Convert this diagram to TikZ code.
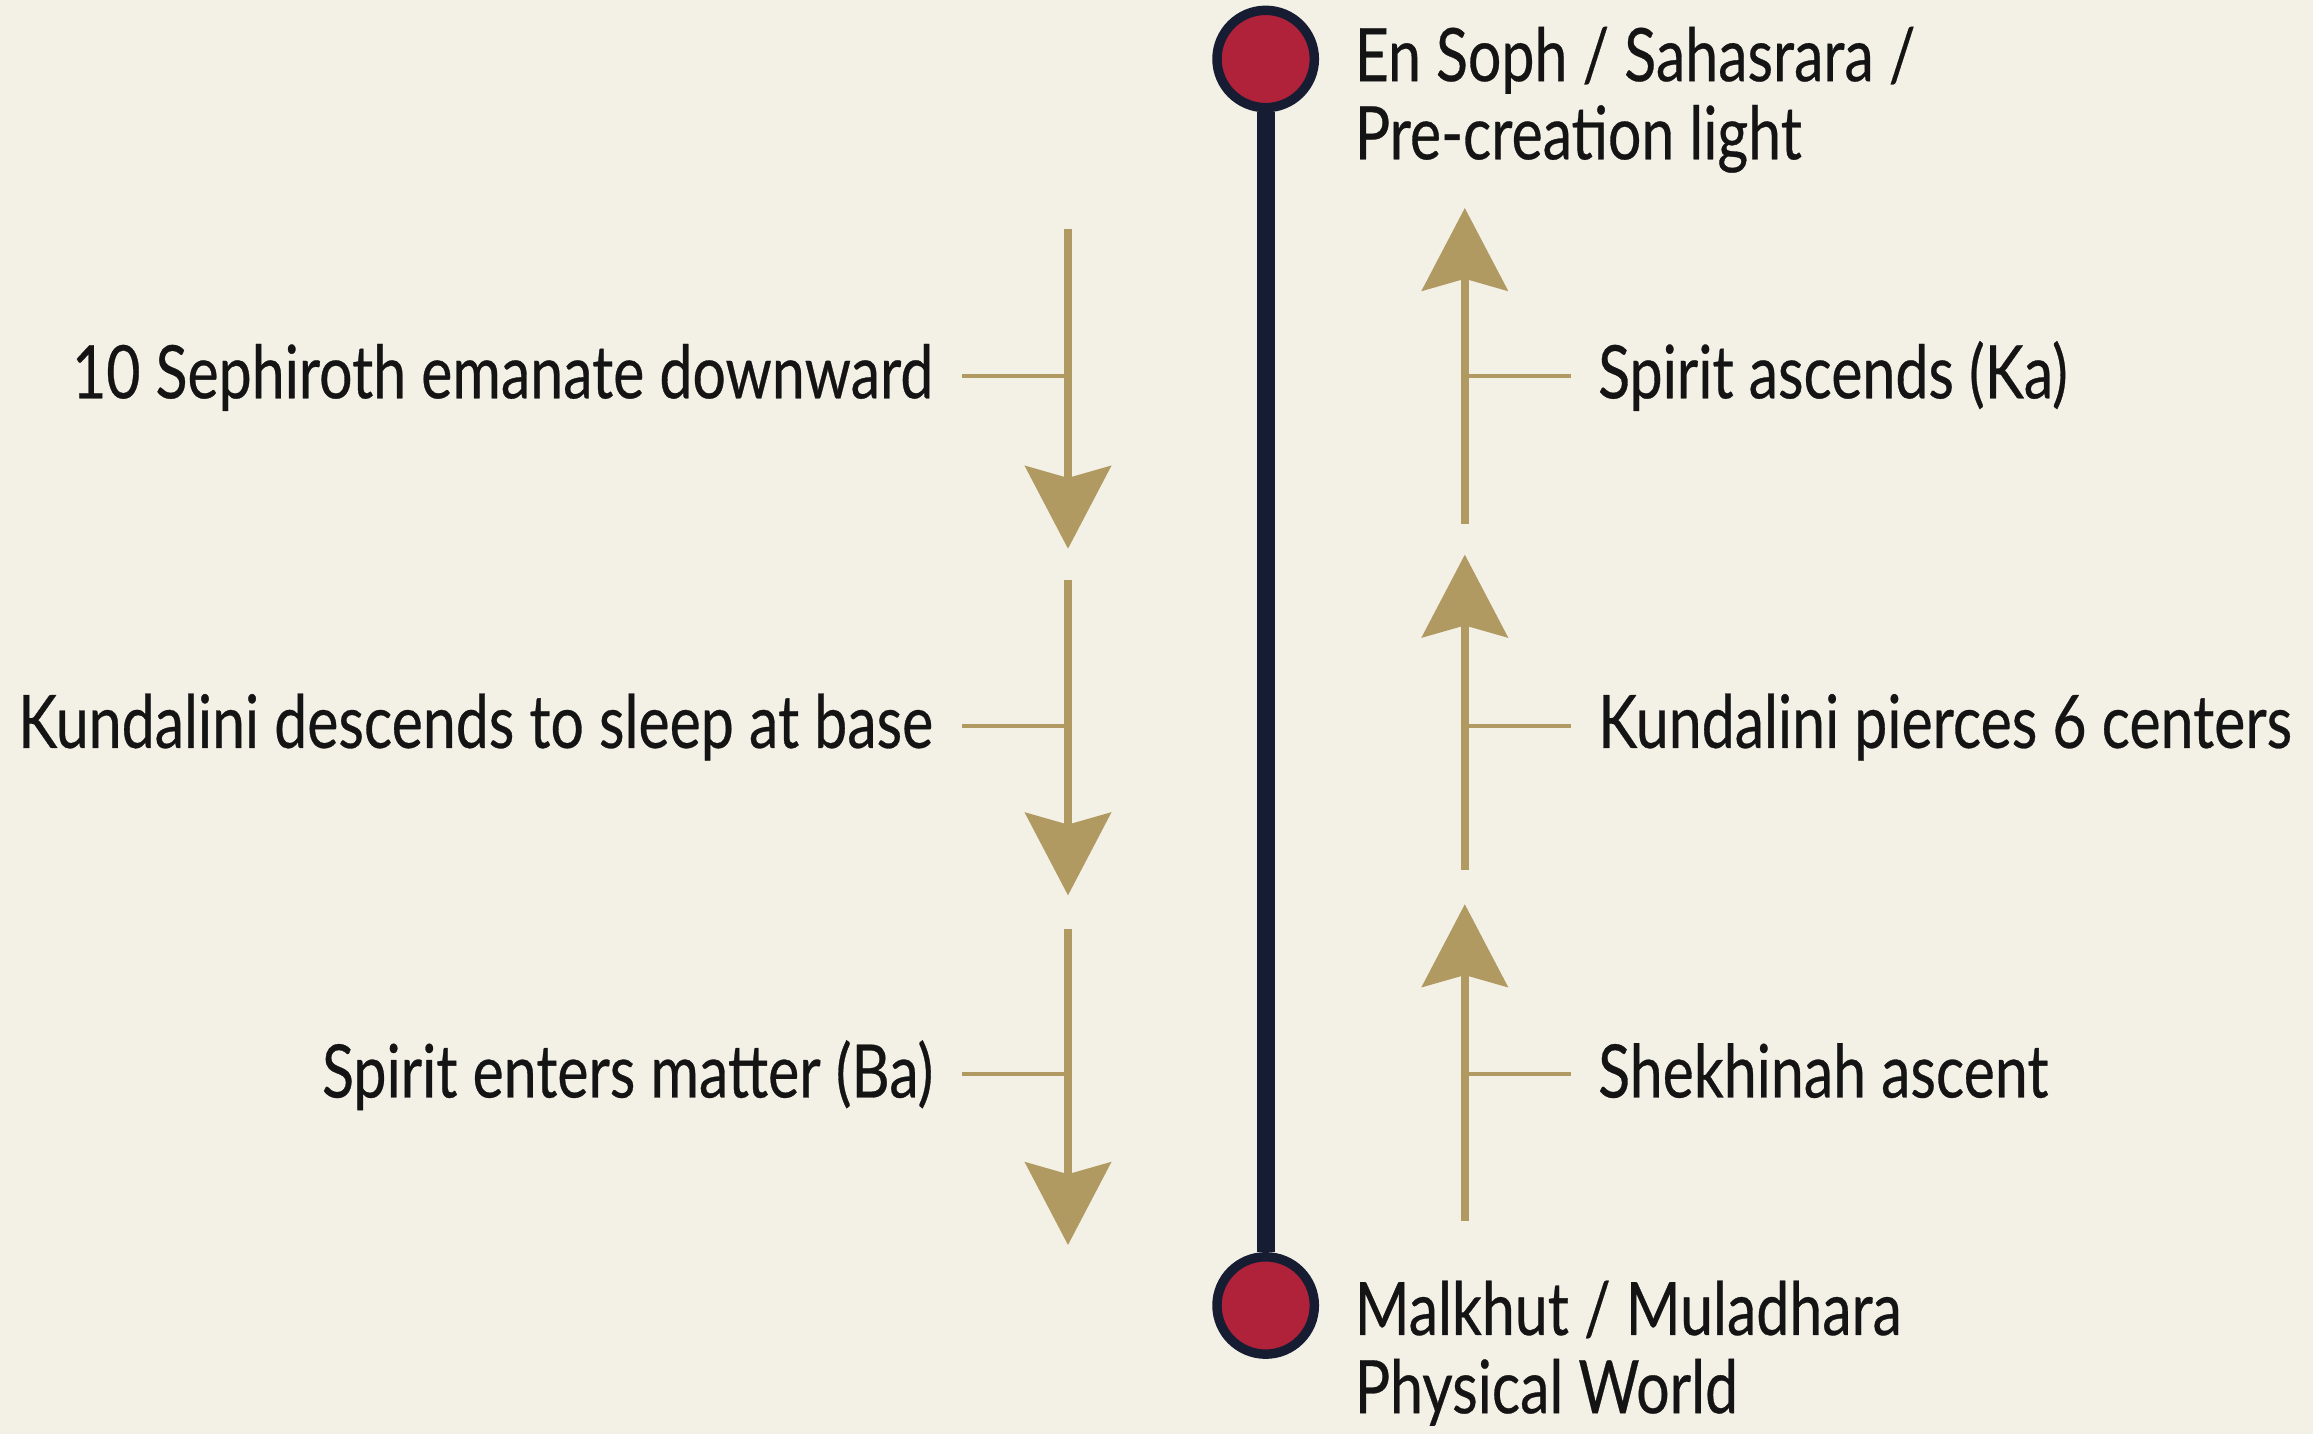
\documentclass[tikz,border=0pt]{standalone}
\usepackage{fontspec}
\setmainfont{Lato}[FakeStretch=0.8, FakeBold=0.4]
\usetikzlibrary{arrows.meta}
\definecolor{bg}{HTML}{F3F0E6}
\definecolor{navy}{HTML}{161D33}
\definecolor{crimson}{HTML}{B0223A}
\definecolor{gold}{HTML}{B09A62}
\definecolor{ink}{HTML}{141414}
\tikzset{
  axisline/.style={draw=navy, line width=6pt},
  pole/.style={circle, draw=navy, line width=3.2pt, fill=crimson, minimum size=33pt, inner sep=0pt},
  flow/.style={draw=gold, line width=2.8pt, -{Stealth[length=28pt, width=29pt, inset=4pt]}},
  tick/.style={draw=gold, line width=1.2pt},
  lbl/.style={font=\fontsize{25pt}{26.5pt}\selectfont, text=ink, inner sep=0pt},
  title/.style={lbl, align=left}
}
\begin{document}
\begin{tikzpicture}[x=0.5pt, y=-0.5pt]
\fill[bg] (0,0) rectangle (1568,972);
\useasboundingbox (0,0) rectangle (1568,972);
% axis
\node[pole] (top) at (858,40) {};
\node[pole] (bot) at (858,885) {};
\draw[axisline] (top) -- (bot);
% titles
\node[title, anchor=base west] (ttop) at (918,108) {En Soph / Sahasrara /\\Pre-creation light};
\node[title, anchor=base west] (tbot) at (918,958) {Malkhut / Muladhara\\Physical World};
% left descending arrows
\coordinate (a1s) at (724,155); \coordinate (a1e) at (724,372);
\coordinate (a2s) at (724,393); \coordinate (a2e) at (724,607);
\coordinate (a3s) at (724,630); \coordinate (a3e) at (724,844);
\draw[flow] (a1s) -- (a1e);
\draw[flow] (a2s) -- (a2e);
\draw[flow] (a3s) -- (a3e);
% right ascending arrows
\coordinate (b1s) at (993,355); \coordinate (b1e) at (993,141);
\coordinate (b2s) at (993,590); \coordinate (b2e) at (993,376);
\coordinate (b3s) at (993,828); \coordinate (b3e) at (993,613);
\draw[flow] (b1s) -- (b1e);
\draw[flow] (b2s) -- (b2e);
\draw[flow] (b3s) -- (b3e);
% left ticks and labels
\coordinate (l1) at (652,255); \coordinate (l1a) at (724,255);
\coordinate (l2) at (652,492); \coordinate (l2a) at (724,492);
\coordinate (l3) at (652,728); \coordinate (l3a) at (724,728);
\draw[tick] (l1) -- (l1a);
\draw[tick] (l2) -- (l2a);
\draw[tick] (l3) -- (l3a);
\node[lbl, anchor=base east] (t1) at (633,270) {10 Sephiroth emanate downward};
\node[lbl, anchor=base east] (t2) at (633,507) {Kundalini descends to sleep at base};
\node[lbl, anchor=base east] (t3) at (633,744) {Spirit enters matter (Ba)};
% right ticks and labels
\coordinate (r1) at (1065,255); \coordinate (r1a) at (993,255);
\coordinate (r2) at (1065,492); \coordinate (r2a) at (993,492);
\coordinate (r3) at (1065,728); \coordinate (r3a) at (993,728);
\draw[tick] (r1a) -- (r1);
\draw[tick] (r2a) -- (r2);
\draw[tick] (r3a) -- (r3);
\node[lbl, anchor=base west] (u1) at (1083,270) {Spirit ascends (Ka)};
\node[lbl, anchor=base west] (u2) at (1083,507) {Kundalini pierces 6 centers};
\node[lbl, anchor=base west] (u3) at (1083,744) {Shekhinah ascent};
\end{tikzpicture}
\end{document}
